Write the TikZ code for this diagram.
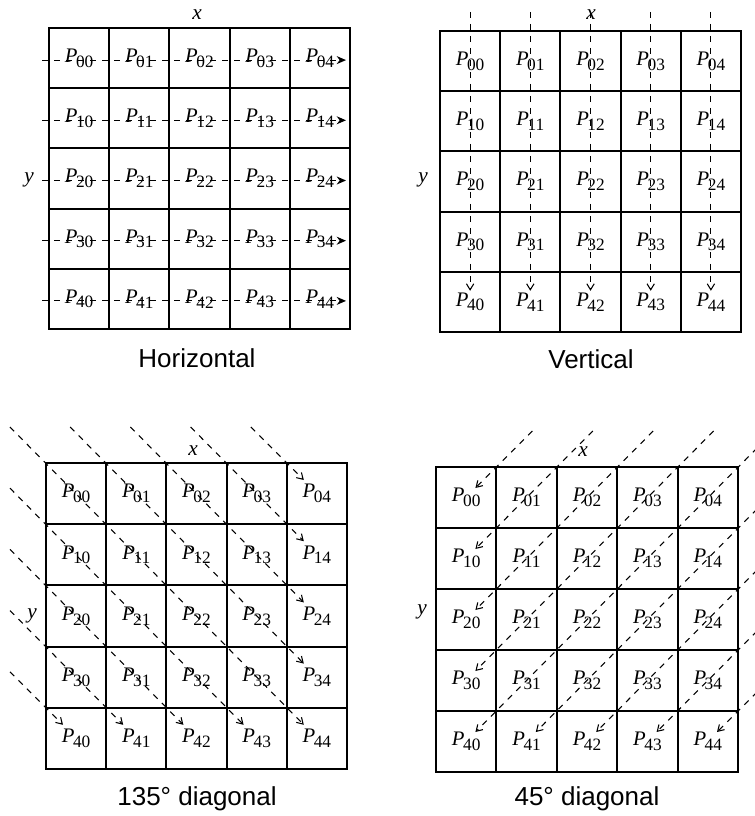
\documentclass[tikz,border=0pt]{standalone}
\usepackage{fontspec}
\setmainfont{Liberation Serif}
\newfontfamily\capfont{Liberation Sans}
\usetikzlibrary{positioning}
\usetikzlibrary{arrows.meta}
\usetikzlibrary{calc}

\tikzset{
  cell/.style={draw, line width=1.5pt, inner sep=0pt, font=\fontsize{15.5}{17}\selectfont},
  flow/.style={dash pattern=on 4.5pt off 4.5pt, line width=0.8pt},
  barb/.style={-{Straight Barb[length=4.5pt,width=5.5pt]}},
  caption/.style={font=\capfont\fontsize{19.5}{22}\selectfont},
  axis/.style={font=\fontsize{16}{18}\selectfont\itshape},
}
\newcommand{\pl}[1]{\textit{P}\kern-0.07em\raisebox{-0.5ex}{\fontsize{13}{14}\selectfont #1}}
% name, left, top, cell width, cell height
\newcommand{\cellgrid}[5]{%
  \foreach \i in {0,...,4}{
    \foreach \j in {0,...,4}{
      \node[cell, minimum width=#4*0.75pt, minimum height=#5*0.75pt] (#1\i\j)
        at ({#2+(\j+0.5)*#4}, {#3+(\i+0.5)*#5}) {\pl{\i\j}};
    }
  }%
}

\begin{document}
\begin{tikzpicture}[x=0.75pt,y=0.75pt,yscale=-1,xscale=1]
\useasboundingbox (0,0) rectangle (754,816);

% Horizontal
\cellgrid{h}{49}{28}{60.2}{60.2}
\node[axis] (hx) at (197,15) {x};
\node[axis] (hy) at (29,180) {y};
\node[caption] (hcap) at (197,358) {Horizontal};
\foreach \i in {0,...,4}{
  \draw[flow, -{Stealth[length=7pt,width=6pt]}] ($(h\i0.west)+(-6,2)$) -- ($(h\i4.east)+(-5,2)$);
}

% Vertical
\cellgrid{v}{440}{31}{60.2}{60.2}
\node[axis] (vx) at (591,15) {x};
\node[axis] (vy) at (423,180) {y};
\node[caption] (vcap) at (591,359) {Vertical};
\foreach \j in {0,...,4}{
  \draw[flow, barb] ($(v0\j.north)+(0,-18)$) -- ($(v4\j.north)+(0,20)$);
}

% 135 diagonal
\cellgrid{a}{46}{463}{60.2}{61.2}
\node[axis] (ax) at (193,451) {x};
\node[axis] (ay) at (32,616) {y};
\node[caption] (acap) at (197,799) {135\textdegree{} diagonal};
\foreach \d in {-4,...,4}{
  \pgfmathtruncatemacro\ri{max(0,-\d)}
  \pgfmathtruncatemacro\ci{max(0,\d)}
  \pgfmathtruncatemacro\re{min(4,4-\d)}
  \pgfmathtruncatemacro\ce{min(4,4+\d)}
  \draw[flow, barb] ($(a\ri\ci.north west)+(-35,-35)$) -- ($(a\re\ce.north west)+(18,18)$);
}

% 45 diagonal
\cellgrid{b}{436}{467}{60.4}{61}
\node[axis] (bx) at (583,452) {x};
\node[axis] (by) at (422,612) {y};
\node[caption] (bcap) at (587,799) {45\textdegree{} diagonal};
\foreach \s in {0,...,8}{
  \pgfmathtruncatemacro\ri{max(0,\s-4)}
  \pgfmathtruncatemacro\ci{min(4,\s)}
  \pgfmathtruncatemacro\re{min(4,\s)}
  \pgfmathtruncatemacro\ce{max(0,\s-4)}
  \draw[flow, barb] ($(b\ri\ci.north east)+(35,-35)$) -- ($(b\re\ce.north east)+(-22,22)$);
}

\end{tikzpicture}
\end{document}
